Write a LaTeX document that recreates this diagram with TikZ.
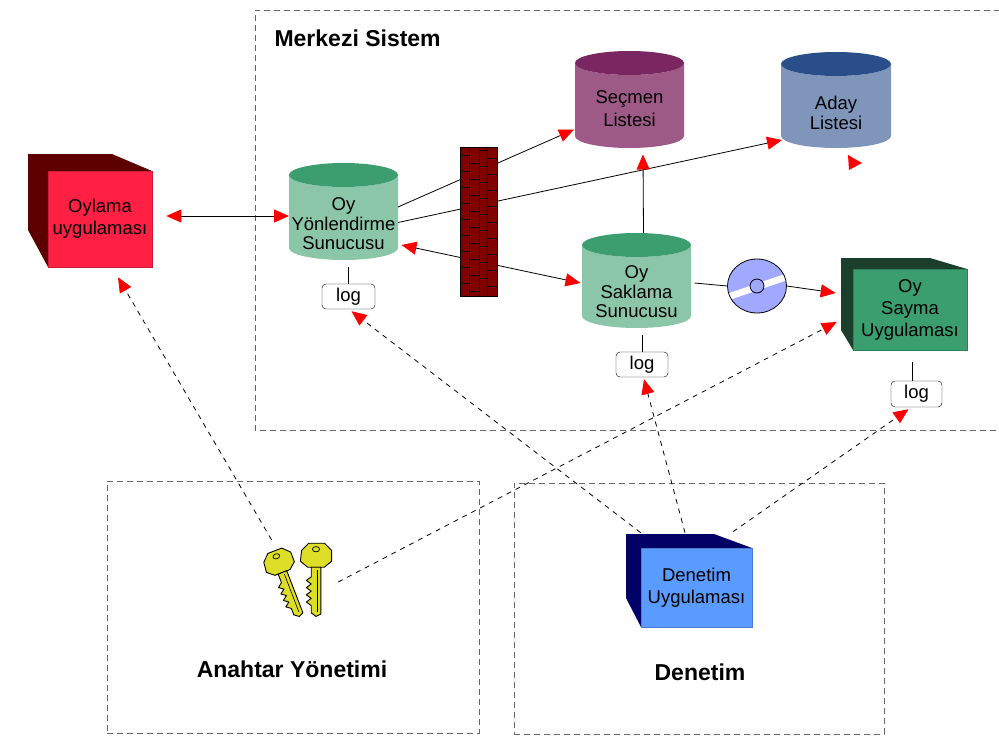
\documentclass[tikz,border=0pt]{standalone}
\usepackage{fontspec}
\setmainfont{Liberation Sans}
\usetikzlibrary{arrows.meta,shapes.geometric}

\definecolor{oylfront}{RGB}{255,32,68}
\definecolor{oyldark}{RGB}{92,0,0}
\definecolor{srvbody}{RGB}{140,198,168}
\definecolor{srvtop}{RGB}{60,158,110}
\definecolor{secbody}{RGB}{158,90,135}
\definecolor{sectop}{RGB}{122,38,96}
\definecolor{adabody}{RGB}{127,150,186}
\definecolor{adatop}{RGB}{42,78,138}
\definecolor{sayfront}{RGB}{58,158,110}
\definecolor{saydark}{RGB}{27,63,42}
\definecolor{denfront}{RGB}{90,155,255}
\definecolor{dendark}{RGB}{0,0,102}
\definecolor{brick}{RGB}{128,0,0}
\definecolor{cdblue}{RGB}{160,168,255}
\definecolor{keygold}{RGB}{222,222,40}

\begin{document}
\begin{tikzpicture}[x=1pt,y=-1pt,
    font=\fontsize{18.5}{19.5}\selectfont,
    dbase/.style={cylinder, shape border rotate=90, aspect=0.24, text width=100pt,
        minimum width=109pt, minimum height=97pt, inner sep=0pt,
        cylinder uses custom fill, anchor=shape center},
    dbtext/.style={align=center, inner sep=0pt},
    appface/.style={minimum width=#1, inner sep=0pt, align=center, line width=0.6pt,
        font=\fontsize{18.5}{22}\selectfont},
    logbox/.style={draw, rounded corners=4pt, fill=white, inner sep=0pt,
        minimum width=52pt, minimum height=25pt},
    area/.style={draw=black!60, line width=0.9pt, dash pattern=on 6pt off 4pt},
    title/.style={font=\fontsize{23}{25}\selectfont\bfseries},
    link/.style={line width=0.8pt},
    dlink/.style={line width=0.8pt, dash pattern=on 5pt off 5pt},
    cdisk/.style={ellipse, draw, fill=cdblue, line width=0.8pt, inner sep=0pt,
        minimum width=59pt, minimum height=54pt},
    brasskey/.pic={
        \filldraw[fill=keygold, line width=0.9pt, line join=round]
            (-12,-8) -- (-6,-14) -- (7,-14) -- (13,-8) -- (13,1) -- (7,6) -- (-7,6) -- (-13,1) -- cycle;
        \draw[line width=0.7pt] (0,-9) ellipse (3pt and 2.2pt);
        \filldraw[fill=keygold, line width=0.9pt, line join=round]
            (-4,6) -- (-4,14) -- (-8,17) -- (-4,20) -- (-8,23) -- (-4,26) -- (-8,29)
            -- (-4,32) -- (-8,35) -- (-4,38) -- (-4,44) -- (0,47) -- (4,45) -- (4,6) -- cycle;
        \draw[line width=0.6pt] (1,8) -- (1,43);
    },
    >={Triangle[length=15pt,width=13pt,red]}
]
\useasboundingbox (0,0) rectangle (999,739);

% dashed areas
\draw[area] (1010,10) -- (255,10) -- (255,430) -- (1010,430);
\node[title, anchor=west] (merkezi) at (271,38) {Merkezi Sistem};
\node[area, minimum width=372pt, minimum height=252pt] (anahtarbox) at (293,607) {};
\node[title] (anahtar) at (292,669) {Anahtar Yönetimi};
\node[area, minimum width=370pt, minimum height=251pt] (denetimbox) at (699,608.5) {};
\node[title] (denetimtitle) at (700,672) {Denetim};

% applications (cubes)
\fill[oyldark] (28,154) -- (112,154) -- (152,171) -- (152,267) -- (48,267) -- (28,230) -- cycle;
\node[appface=104pt, minimum height=96pt, fill=oylfront, draw=oylfront!80!black] (oylama) at (100,219) {Oylama\\uygulaması};
\fill[saydark] (841,258) -- (930,258) -- (967,269) -- (967,350) -- (853,350) -- (841,330) -- cycle;
\node[appface=114pt, minimum height=81pt, fill=sayfront, draw=sayfront!80!black] (sayma) at (910,309.5) {Oy\\Sayma\\Uygulaması};
\fill[dendark] (626,534) -- (714,534) -- (752,548) -- (752,627) -- (641,627) -- (626,598) -- cycle;
\node[appface=111pt, minimum height=79pt, fill=denfront, draw=denfront!80!black] (denetim) at (696.5,587.5) {Denetim\\Uygulaması};

% servers and lists
\node[dbase, cylinder body fill=srvbody, cylinder end fill=srvtop] (yonl) at (343.5,211.5) {};
\node[dbtext] (yonltext) at ([yshift=-12.5pt]yonl.shape center) {Oy\\Yönlendirme\\Sunucusu};
\node[dbase, cylinder body fill=srvbody, cylinder end fill=srvtop, minimum height=95pt] (sakla) at (636.5,280.5) {};
\node[dbtext] (saklatext) at ([yshift=-11.5pt]sakla.shape center) {Oy\\Saklama\\Sunucusu};
\node[dbase, cylinder body fill=secbody, cylinder end fill=sectop] (secmen) at (629.5,99.5) {};
\node[dbtext, font=\fontsize{18.5}{22.5}\selectfont] (secmentext) at ([yshift=-9pt]secmen.shape center) {Seçmen\\Listesi};
\node[dbase, cylinder body fill=adabody, cylinder end fill=adatop, minimum width=110pt, minimum height=96pt] (aday) at (836,100) {};
\node[dbtext, font=\fontsize{18.5}{20.5}\selectfont] (adaytext) at ([yshift=-13pt]aday.shape center) {Aday\\Listesi};

% logs
\node[logbox, minimum width=53pt] (log1) at (348.5,296.5) {log};
\node[logbox] (log2) at (642,364.5) {log};
\node[logbox, minimum width=51pt, minimum height=26pt] (log3) at (916.5,394) {log};
\draw[link] (log1.north) -- ++(0,-17);
\draw[link] (log2.north) -- ++(0,-17);
\draw[link] ([xshift=-4pt]log3.north) -- ++(0,-19);

% disk
\node[cdisk, path picture={
    \fill[white] ([shift={(-35,9.5)}]path picture bounding box.center)
        -- ([shift={(35,-14.5)}]path picture bounding box.center)
        -- ([shift={(35,-7.5)}]path picture bounding box.center)
        -- ([shift={(-35,16.5)}]path picture bounding box.center) -- cycle;
    \filldraw[fill=cdblue, line width=0.8pt] (path picture bounding box.center) circle (7pt);
}] (cd) at (757,286) {};

% keys
\node[minimum width=76pt, minimum height=84pt] (keys) at (300,582) {};
\pic[rotate=21, scale=1.15] at (280,566) {brasskey};
\pic[scale=1.2] at (316,560) {brasskey};

% solid connectors
\draw[link, <->] ([shift={(14,-3)}]oylama.east) -- ([shift={(-54.5,4.5)}]yonl.shape center);
\draw[link, ->] ([shift={(54.5,-4.5)}]yonl.shape center) -- ([shift={(-55.5,30)}]secmen.shape center);
\draw[link, ->] ([shift={(54.5,11)}]yonl.shape center) -- ([shift={(-54,40)}]aday.shape center);
\draw[link, <->] ([shift={(-56,2.5)}]sakla.shape center) -- ([shift={(58,33.5)}]yonl.shape center);
\draw[link, ->] ([shift={(7,-47.5)}]sakla.shape center) -- ([shift={(13.5,55)}]secmen.shape center);
\draw[link] ([shift={(58,2.5)}]sakla.shape center) -- (cd.west);
\draw[link, ->] (cd.east) -- ([shift={(-17,-16.5)}]sayma.west);
\fill[red] (848,155) -- (862,163) -- (849,170) -- cycle;

% firewall
\node[draw, fill=brick, line width=0.8pt, minimum width=37pt, minimum height=149pt, inner sep=0pt] (wall) at (478.5,221.5) {};
\foreach \xx in {469,479,487}
    \draw[line width=0.7pt] (\xx,147) -- (\xx,296);
\foreach \xa/\xb/\off in {460/469/8, 469/479/16, 479/487/3, 487/497/11}
    \foreach \k in {0,...,8}
        \draw[line width=0.7pt] (\xa,147+\off+16*\k) -- (\xb,147+\off+16*\k);

% dashed connectors
\draw[dlink, ->] (keys.124) -- ([shift={(18,10)}]oylama.south);
\draw[dlink, ->] (keys.east) -- ([shift={(-16,12.5)}]sayma.west);
\draw[dlink, ->] ([shift={(0,-15)}]denetim.north west) -- ([shift={(3,2)}]log1.south);
\draw[dlink, ->] ([shift={(-11.5,-15)}]denetim.north) -- ([shift={(2,2)}]log2.south);
\draw[dlink, ->] ([shift={(36.5,-16)}]denetim.north) -- ([shift={(-8,2)}]log3.south);
\end{tikzpicture}
\end{document}
